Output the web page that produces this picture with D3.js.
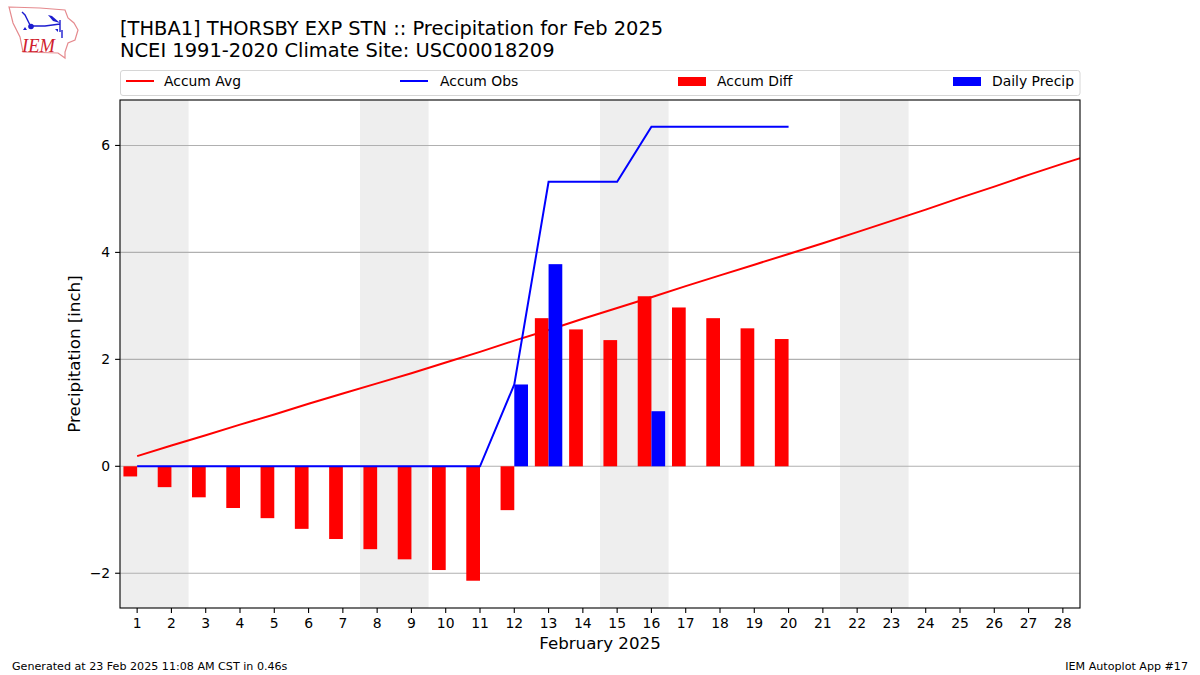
<!DOCTYPE html>
<html lang="en">
<head>
<meta charset="utf-8">
<title>Precipitation for Feb 2025</title>
<script src="https://cdn.jsdelivr.net/npm/d3@7"></script>
<style>
html, body { margin: 0; padding: 0; background: #fff; }
svg { display: block; }
text { font-family: "DejaVu Sans", sans-serif; fill: #000; }
</style>
</head>
<body>
<div id="chart"></div>
<script>
var days = d3.range(1, 29)
var avgDays = d3.range(1, 30)
var accumAvg = [0.19,0.39,0.58,0.78,0.97,1.17,1.36,1.55,1.74,1.94,2.14,2.35,2.55,2.76,2.96,3.16,3.37,3.57,3.77,3.97,4.17,4.38,4.59,4.80,5.02,5.23,5.45,5.66,5.86]
var accumObs = [0,0,0,0,0,0,0,0,0,0,0,1.53,5.32,5.32,5.32,6.35,6.35,6.35,6.35,6.35]
var accumDiff = [-0.19,-0.39,-0.58,-0.78,-0.97,-1.17,-1.36,-1.55,-1.74,-1.94,-2.14,-0.82,2.77,2.56,2.36,3.18,2.97,2.77,2.58,2.38]
var dailyPrecip = [0,0,0,0,0,0,0,0,0,0,0,1.53,3.78,0,0,1.03,0,0,0,0]
var weekends = [[1,2],[8,9],[15,16],[22,23]]
var yTicks = [-2,0,2,4,6]
var legendLabels = ["Accum Avg","Accum Obs","Accum Diff","Daily Precip"]

var svg = d3.select("#chart").append("svg").attr("width",1200).attr("height",675)

var plotLeft = 120, plotRight = 1080, plotTop = 100, plotBottom = 608

var x = d3.scaleLinear().domain([0.5,28.5]).range([plotLeft,plotRight])
var y = d3.scaleLinear().domain([-2.65,6.85]).range([plotBottom,plotTop])
var barWidth = x(0.9)-x(0.5)

svg.append("clipPath").attr("id","plotclip")
  .append("rect").attr("x",plotLeft).attr("y",plotTop).attr("width",plotRight-plotLeft).attr("height",plotBottom-plotTop)

// weekend shading
svg.selectAll(".weekend")
  .data(weekends)
  .enter()
  .append("rect")
  .attr("class","weekend")
  .attr("x",function(d){ return x(d[0]-0.5) })
  .attr("width",function(d){ return x(d[1]+0.5)-x(d[0]-0.5) })
  .attr("y",plotTop)
  .attr("height",plotBottom-plotTop)
  .attr("fill","#eeeeee")

// grid
svg.selectAll(".grid")
  .data(yTicks)
  .enter()
  .append("line")
  .attr("class","grid")
  .attr("x1",plotLeft).attr("x2",plotRight)
  .attr("y1",function(d){ return y(d) })
  .attr("y2",function(d){ return y(d) })
  .attr("stroke","#b0b0b0")
  .attr("stroke-width",1.1)

// red bars, red line, blue bars, blue line
svg.selectAll(".diff")
  .data(accumDiff)
  .enter()
  .append("rect")
  .attr("class","diff")
  .attr("x",function(d,i){ return x(days[i]-0.4) })
  .attr("width",barWidth)
  .attr("y",function(d){ return y(Math.max(d,0)) })
  .attr("height",function(d){ return Math.abs(y(d)-y(0)) })
  .attr("fill","#ff0000")

var avgLine = d3.line()
  .x(function(d,i){ return x(avgDays[i]) })
  .y(function(d){ return y(d) })

svg.append("path")
  .attr("d",avgLine(accumAvg))
  .attr("fill","none")
  .attr("stroke","#ff0000")
  .attr("stroke-width",2)
  .attr("clip-path","url(#plotclip)")

svg.selectAll(".daily")
  .data(dailyPrecip)
  .enter()
  .append("rect")
  .attr("class","daily")
  .attr("x",function(d,i){ return x(days[i]) })
  .attr("width",barWidth)
  .attr("y",function(d){ return y(d) })
  .attr("height",function(d){ return y(0)-y(d) })
  .attr("fill","#0000ff")

svg.append("path")
  .attr("d",avgLine(accumObs))
  .attr("fill","none")
  .attr("stroke","#0000ff")
  .attr("stroke-width",2)

// axes
var xAxis = d3.axisBottom(x).tickValues(days).tickFormat(d3.format("d")).tickSize(4.9).tickPadding(4.9).offset(0)
var yAxis = d3.axisLeft(y).tickValues(yTicks).tickFormat(function(d){ return d<0 ? "\u2212"+Math.abs(d) : d }).tickSize(4.9).tickPadding(4.9).offset(0)

var gx = svg.append("g").attr("transform","translate(0,"+plotBottom+")").call(xAxis)
var gy = svg.append("g").attr("transform","translate("+plotLeft+",0)").call(yAxis)
gx.selectAll("text").style("font-size","13.9px").style("font-family","DejaVu Sans")
gy.selectAll("text").style("font-size","13.9px").style("font-family","DejaVu Sans")
gx.select(".domain").remove()
gy.select(".domain").remove()
gx.selectAll("line").attr("stroke","#000").attr("stroke-width",1.1)
gy.selectAll("line").attr("stroke","#000").attr("stroke-width",1.1)

svg.append("rect")
  .attr("x",plotLeft).attr("y",plotTop)
  .attr("width",plotRight-plotLeft).attr("height",plotBottom-plotTop)
  .attr("fill","none").attr("stroke","#000").attr("stroke-width",1.1)

svg.append("text").attr("x",600).attr("y",649).attr("text-anchor","middle").style("font-size","16.67px").text("February 2025")
svg.append("text").attr("transform","translate(80,354) rotate(-90)").attr("text-anchor","middle").style("font-size","16.67px").text("Precipitation [inch]")

// titles
svg.append("text").attr("x",120).attr("y",35).style("font-size","19.44px").text("[THBA1] THORSBY EXP STN :: Precipitation for Feb 2025")
svg.append("text").attr("x",120).attr("y",57).style("font-size","19.44px").text("NCEI 1991-2020 Climate Site: USC00018209")

// legend
svg.append("rect").attr("x",120.5).attr("y",70.5).attr("width",959.5).attr("height",25).attr("rx",2.5)
  .attr("fill","#fff").attr("stroke","#d6d6d6").attr("stroke-width",1)
var legendX = [126,400,678,953]
var legendTextX = [164,440,717,992]
var legendColors = ["#ff0000","#0000ff","#ff0000","#0000ff"]
legendLabels.forEach(function(label,i){
  if (i<2) {
    svg.append("line").attr("x1",legendX[i]).attr("x2",legendX[i]+28).attr("y1",81).attr("y2",81)
      .attr("stroke",legendColors[i]).attr("stroke-width",2)
  } else {
    svg.append("rect").attr("x",legendX[i]).attr("y",77).attr("width",28).attr("height",9).attr("fill",legendColors[i])
  }
  svg.append("text").attr("x",legendTextX[i]).attr("y",86).style("font-size","13.9px").text(label)
})

// footer
svg.append("text").attr("x",12).attr("y",670).style("font-size","11.11px").text("Generated at 23 Feb 2025 11:08 AM CST in 0.46s")
svg.append("text").attr("x",1188).attr("y",670).attr("text-anchor","end").style("font-size","11.11px").text("IEM Autoplot App #17")

// IEM logo
var logo = svg.append("g")
logo.append("path")
  .attr("d","M9,7 L40,8 L65,10 L68,18 L74,23 L78,30 L75,40 L68,43 L65,52 L65,58 L58,53 L23,52 L20,37 L13,23 Z")
  .attr("fill","#fff").attr("stroke","#e58a8e").attr("stroke-width",1.2)
logo.append("path").attr("d","M31,26 L45,26 L60,24 M60,20 L60,32 M62,30 L62,38 M22,12 L25,15 L30,25")
  .attr("fill","none").attr("stroke","#1c1ccf").attr("stroke-width",1.4)
logo.append("circle").attr("cx",31).attr("cy",26.5).attr("r",2.8).attr("fill","#1c1ccf")
logo.append("path").attr("d","M48,15 L52,16 L60,23 L53,21 Z").attr("fill","#1c1ccf")
logo.append("path").attr("d","M23,30 L25,27 L27,30 Z M55,29 L58,29 L58,32 Z").attr("fill","#1c1ccf")
logo.append("text").attr("x",22).attr("y",52).style("font-family","Liberation Serif").style("font-style","italic").style("font-size","18.5px").style("fill","#d0202c").text("IEM")
</script>
</body>
</html>
